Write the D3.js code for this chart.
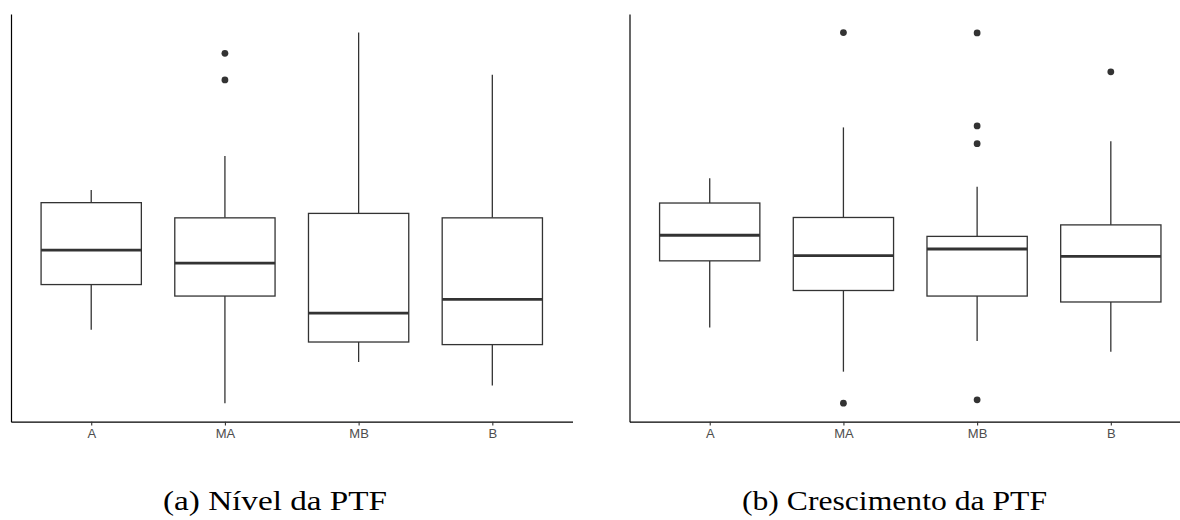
<!DOCTYPE html>
<html>
<head>
<meta charset="utf-8">
<script src="https://cdn.jsdelivr.net/npm/d3@7"></script>
<style>
  html, body { margin: 0; padding: 0; background: #fff; }
  svg { display: block; }
</style>
</head>
<body>
<svg id="chart" width="1180" height="520"></svg>
<script>
// Regions of the TFP comparison
const categories = ["A", "MA", "MB", "B"];

// (a) TFP level: whisker ends, quartiles, medians and outliers per region
const nivelLower   = [0.398, 0.200, 0.311, 0.248];
const nivelQ1      = [0.520, 0.489, 0.365, 0.358];
const nivelMedian  = [0.613, 0.578, 0.443, 0.480];
const nivelQ3      = [0.741, 0.700, 0.712, 0.700];
const nivelUpper   = [0.775, 0.867, 1.200, 1.086];
const nivelOutliers = [[], [1.072, 1.144], [], []];

// (b) TFP growth (%): whisker ends, quartiles, medians and outliers per region
const crescLower   = [-1.96, -3.15, -2.32, -2.61];
const crescQ1      = [-0.16, -0.96, -1.11, -1.27];
const crescMedian  = [0.53, -0.02, 0.16, -0.04];
const crescQ3      = [1.40, 1.01, 0.50, 0.81];
const crescUpper   = [2.07, 3.44, 1.84, 3.07];
const crescOutliers = [[], [-4.00, 6.00], [-3.91, 3.00, 3.48, 5.99], [4.94]];

const captions = ["(a) Nível da PTF", "(b) Crescimento da PTF"];

const svg = d3.select("#chart");
const INK = "#333333";

function buildRows(lower, q1, median, q3, upper, outliers) {
  return categories.map((c, i) => ({
    cat: c, lower: lower[i], q1: q1[i], median: median[i],
    q3: q3[i], upper: upper[i], outliers: outliers[i]
  }));
}

function drawPanel(rows, left, caption, captionX, captionWidth) {
  const top = 14, bottom = 421.7;
  const step = 133.7;
  const right = left + step * (categories.length - 1 + 1.2);

  const all = rows.flatMap(r => [r.lower, r.upper, ...r.outliers]);
  const [lo, hi] = d3.extent(all);
  const pad = (hi - lo) * 0.05;

  const x = d3.scalePoint().domain(categories).range([left, right]).padding(0.6);
  const y = d3.scaleLinear().domain([lo - pad, hi + pad]).range([bottom, top]);
  const boxW = x.step() * 0.75;

  const g = svg.append("g");

  const box = g.selectAll("g.box").data(rows).join("g").attr("class", "box");

  // whiskers
  box.append("line")
    .attr("x1", d => x(d.cat)).attr("x2", d => x(d.cat))
    .attr("y1", d => y(d.upper)).attr("y2", d => y(d.q3))
    .attr("stroke", INK).attr("stroke-width", 1.3);
  box.append("line")
    .attr("x1", d => x(d.cat)).attr("x2", d => x(d.cat))
    .attr("y1", d => y(d.q1)).attr("y2", d => y(d.lower))
    .attr("stroke", INK).attr("stroke-width", 1.3);

  // interquartile box
  box.append("rect")
    .attr("x", d => x(d.cat) - boxW / 2)
    .attr("width", boxW)
    .attr("y", d => y(d.q3))
    .attr("height", d => y(d.q1) - y(d.q3))
    .attr("fill", "#fff").attr("stroke", INK).attr("stroke-width", 1.3);

  // median
  box.append("line")
    .attr("x1", d => x(d.cat) - boxW / 2).attr("x2", d => x(d.cat) + boxW / 2)
    .attr("y1", d => y(d.median)).attr("y2", d => y(d.median))
    .attr("stroke", INK).attr("stroke-width", 2.8);

  // outliers
  box.selectAll("circle")
    .data(d => d.outliers.map(v => ({ cat: d.cat, v })))
    .join("circle")
    .attr("cx", d => x(d.cat)).attr("cy", d => y(d.v))
    .attr("r", 3.4).attr("fill", INK);

  // axes
  const xAxis = g.append("g")
    .attr("transform", `translate(0,${bottom})`)
    .call(d3.axisBottom(x).tickSizeInner(3.7).tickSizeOuter(0).tickPadding(3));
  xAxis.select(".domain").attr("stroke", "#000").attr("stroke-width", 1.2);
  xAxis.selectAll(".tick line").attr("stroke", INK).attr("stroke-width", 1.1);
  xAxis.selectAll(".tick text")
    .attr("fill", "#4d4d4d")
    .attr("font-family", "'Liberation Sans', Arial, sans-serif")
    .attr("font-size", 13);

  const yAxis = g.append("g")
    .attr("transform", `translate(${left},0)`)
    .call(d3.axisLeft(y).tickValues([]).tickSizeOuter(0));
  yAxis.select(".domain").attr("stroke", "#000").attr("stroke-width", 1.2);

  // caption
  svg.append("text")
    .attr("x", captionX).attr("y", 510)
    .attr("font-family", "'Liberation Serif', 'Times New Roman', serif")
    .attr("font-size", 28)
    .attr("fill", "#000")
    .attr("textLength", captionWidth)
    .attr("lengthAdjust", "spacingAndGlyphs")
    .text(caption);
}

drawPanel(buildRows(nivelLower, nivelQ1, nivelMedian, nivelQ3, nivelUpper, nivelOutliers),
  11, captions[0], 163, 224);
drawPanel(buildRows(crescLower, crescQ1, crescMedian, crescQ3, crescUpper, crescOutliers),
  629.5, captions[1], 742, 305);
</script>
</body>
</html>
